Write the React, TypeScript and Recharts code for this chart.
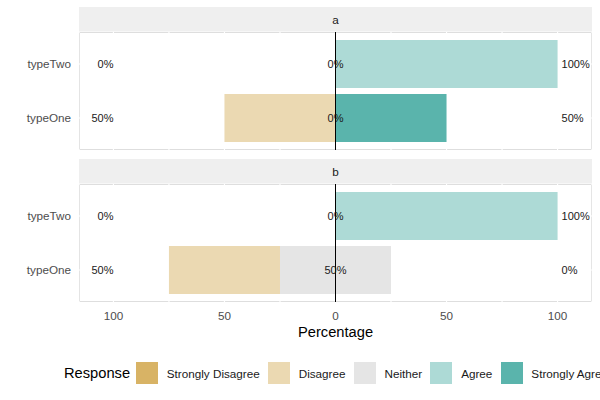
import React from 'react';
import {
  BarChart,
  Bar,
  XAxis,
  YAxis,
  CartesianGrid,
  ReferenceLine,
  ReferenceDot,
} from 'recharts';

// Survey items, top row first
const items = ['typeTwo', 'typeOne'];
const groups = ['a', 'b'];

// Percent of answers per response level, in item order (group a)
const stronglyDisagreeA = [0, 0];
const disagreeA = [0, 50];
const neitherA = [0, 0];
const agreeA = [100, 0];
const stronglyAgreeA = [0, 50];

// Percent of answers per response level, in item order (group b)
const stronglyDisagreeB = [0, 0];
const disagreeB = [0, 50];
const neitherB = [0, 50];
const agreeB = [100, 0];
const stronglyAgreeB = [0, 0];

const levels = ['Strongly Disagree', 'Disagree', 'Neither', 'Agree', 'Strongly Agree'];
const levelColors = ['#D8B365', '#EBD9B2', '#E5E5E5', '#ADDAD6', '#5AB4AC'];

const xTicks = [-100, -75, -50, -25, 0, 25, 50, 75, 100];
const xDomain: [number, number] = [-115.5, 115.5];

const FONT = '"Liberation Sans", Arial, Helvetica, sans-serif';

type Row = {
  item: string;
  sd: number;
  d: number;
  nLow: number;
  nHigh: number;
  a: number;
  sa: number;
  low: number;
  neutral: number;
  high: number;
};

// Diverging layout: disagreement to the left of zero, agreement to the right,
// the neutral share split evenly across zero.
function buildRows(sd: number[], d: number[], n: number[], a: number[], sa: number[]): Row[] {
  return items.map((item, i) => ({
    item,
    sd: -sd[i],
    d: -d[i],
    nLow: -n[i] / 2,
    nHigh: n[i] / 2,
    a: a[i],
    sa: sa[i],
    low: sd[i] + d[i],
    neutral: n[i],
    high: a[i] + sa[i],
  }));
}

const rowsA = buildRows(stronglyDisagreeA, disagreeA, neitherA, agreeA, stronglyAgreeA);
const rowsB = buildRows(stronglyDisagreeB, disagreeB, neitherB, agreeB, stronglyAgreeB);

const tickFormat = (v: number) => (v % 50 === 0 ? String(Math.abs(v)) : '');

const labelStyle = { fill: '#1A1A1A', fontSize: 11 };

function Panel({ rows, withAxis }: { rows: Row[]; withAxis: boolean }) {
  const height = withAxis ? 200 : 160;
  const margin = withAxis
    ? { top: 34, right: 8, bottom: 8, left: 0 }
    : { top: 32, right: 8, bottom: 10, left: 0 };
  return (
    <BarChart
      width={600}
      height={height}
      data={rows}
      layout="vertical"
      stackOffset="sign"
      margin={margin}
      barSize={48}
    >
      <CartesianGrid stroke="#FFFFFF" strokeWidth={1.2} />
      <XAxis
        type="number"
        domain={xDomain}
        ticks={xTicks}
        interval={0}
        allowDataOverflow
        hide={!withAxis}
        height={withAxis ? 40 : 0}
        tickFormatter={tickFormat}
        tickLine={false}
        axisLine={false}
        tickSize={0}
        tickMargin={10}
        tick={{ fill: '#4D4D4D', fontSize: 11.7 }}
      />
      <YAxis
        type="category"
        dataKey="item"
        width={79}
        tickLine={false}
        axisLine={false}
        tickSize={0}
        tickMargin={8}
        padding={{ top: 5, bottom: 5 }}
        tick={{ fill: '#4D4D4D', fontSize: 11.7 }}
      />
      <Bar dataKey="nLow" stackId="s" fill={levelColors[2]} isAnimationActive={false} />
      <Bar dataKey="nHigh" stackId="s" fill={levelColors[2]} isAnimationActive={false} />
      <Bar dataKey="d" stackId="s" fill={levelColors[1]} isAnimationActive={false} />
      <Bar dataKey="sd" stackId="s" fill={levelColors[0]} isAnimationActive={false} />
      <Bar dataKey="a" stackId="s" fill={levelColors[3]} isAnimationActive={false} />
      <Bar dataKey="sa" stackId="s" fill={levelColors[4]} isAnimationActive={false} />
      <ReferenceLine x={0} stroke="#000000" strokeWidth={1} />
      {rows.map((r) => (
        <ReferenceDot
          key={`low-${r.item}`}
          x={-100}
          y={r.item}
          r={0}
          fill="none"
          stroke="none"
          label={{ value: `${r.low}%`, position: 'left', offset: 0, ...labelStyle }}
        />
      ))}
      {rows.map((r) => (
        <ReferenceDot
          key={`mid-${r.item}`}
          x={0}
          y={r.item}
          r={0}
          fill="none"
          stroke="none"
          label={{ value: `${r.neutral}%`, position: 'center', offset: 0, ...labelStyle }}
        />
      ))}
      {rows.map((r) => (
        <ReferenceDot
          key={`high-${r.item}`}
          x={100}
          y={r.item}
          r={0}
          fill="none"
          stroke="none"
          label={{ value: `${r.high}%`, position: 'right', offset: 4, ...labelStyle }}
        />
      ))}
    </BarChart>
  );
}

function Strip({ top, text }: { top: number; text: string }) {
  return (
    <div
      style={{
        position: 'absolute',
        left: 79,
        top,
        width: 513,
        height: 25,
        background: '#EFEFEF',
        display: 'flex',
        alignItems: 'center',
        justifyContent: 'center',
        fontSize: 11.7,
        color: '#1A1A1A',
      }}
    >
      {text}
    </div>
  );
}

function Frame({ top }: { top: number }) {
  return (
    <div
      style={{
        position: 'absolute',
        left: 79,
        top,
        width: 513,
        height: 118,
        boxSizing: 'border-box',
        border: '1px solid #BDBDBD',
      }}
    />
  );
}

export default function App() {
  return (
    <div
      style={{
        position: 'absolute',
        left: 0,
        top: 0,
        width: 600,
        height: 400,
        overflow: 'hidden',
        background: '#FFFFFF',
        fontFamily: FONT,
      }}
    >
      <Strip top={7} text={groups[0]} />
      <Strip top={159} text={groups[1]} />
      <Frame top={32} />
      <Frame top={184} />
      <div style={{ position: 'absolute', left: 0, top: 0 }}>
        <Panel rows={rowsA} withAxis={false} />
      </div>
      <div style={{ position: 'absolute', left: 0, top: 150 }}>
        <Panel rows={rowsB} withAxis />
      </div>
      <div
        style={{
          position: 'absolute',
          left: 79,
          width: 513,
          top: 325,
          textAlign: 'center',
          fontSize: 14.7,
          lineHeight: 1,
          color: '#000000',
        }}
      >
        Percentage
      </div>
      <div
        style={{
          position: 'absolute',
          left: 64,
          top: 362,
          height: 22,
          display: 'flex',
          alignItems: 'center',
          whiteSpace: 'nowrap',
        }}
      >
        <span style={{ fontSize: 14.7, color: '#000000', marginRight: 6 }}>Response</span>
        {levels.map((lv, i) => (
          <span key={lv} style={{ display: 'flex', alignItems: 'center', marginRight: 8.3 }}>
            <span
              style={{
                display: 'inline-block',
                width: 22,
                height: 22,
                background: levelColors[i],
              }}
            />
            <span style={{ fontSize: 11.7, color: '#1A1A1A', marginLeft: 8.7 }}>{lv}</span>
          </span>
        ))}
      </div>
    </div>
  );
}
